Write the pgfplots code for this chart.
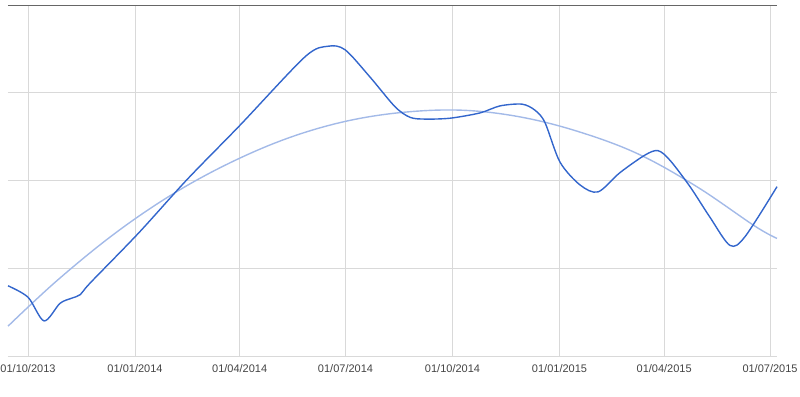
\documentclass[border=0pt]{standalone}
\usepackage{pgfplots}
\pgfplotsset{compat=1.18}
\usepackage{fontspec}
\setmainfont{Liberation Sans}
\definecolor{gblue}{HTML}{3366CC}
\definecolor{gridc}{HTML}{D9D9D9}
\definecolor{lab}{HTML}{444444}
\begin{document}
\begin{tikzpicture}
\begin{axis}[
  name=a,
  scale only axis,
  width=769pt, height=351pt,
  xmin=-17.2, xmax=644, ymin=0, ymax=4,
  axis line style={draw=none},
  tick style={draw=none},
  xtick={0,92,182,273,365,457,547,638},
  xticklabels={01/10/2013,01/01/2014,01/04/2014,01/07/2014,01/10/2014,01/01/2015,01/04/2015,01/07/2015},
  ytick={0,1,2,3},
  yticklabels={},
  extra y ticks={4},
  extra y tick labels={},
  extra y tick style={grid style={draw=black!60, line width=1pt}},
  grid=major,
  grid style={draw=gridc, line width=0.8pt},
  xticklabel style={font=\fontsize{11}{13}\selectfont, text=lab, yshift=-5pt},
  clip=false,
]
\addplot[gblue!45, line width=1.4pt, smooth, tension=0.6] coordinates {
(-17.2,0.34) (25,0.86) (75,1.40) (125,1.85) (175,2.21) (225,2.49) (275,2.68) (325,2.78) (375,2.80) (425,2.72) (475,2.55) (525,2.30) (575,1.93) (625,1.48) (644,1.34)
};
\addplot[gblue, line width=1.4pt, smooth, tension=0.5] coordinates {
(-17.2,0.80) (0,0.67) (13.8,0.40) (27.5,0.60) (37.8,0.66) (45,0.70) (53.3,0.83) (95,1.40) (136.7,2.01) (182.3,2.63) (238.2,3.41) (258,3.53) (272.6,3.49) (294,3.18) (315.6,2.84) (328.5,2.72) (341.4,2.70) (362.9,2.71) (388.6,2.77) (405.8,2.85) (424.8,2.87) (436,2.80) (444.5,2.66) (457.4,2.21) (474.6,1.95) (490.1,1.87) (509,2.09) (530.5,2.29) (541.7,2.34) (552,2.23) (569.2,1.93) (586.4,1.58) (603.6,1.26) (616.5,1.36) (644,1.93)
};
\end{axis}
\pgfresetboundingbox
\path (a.south west) +(-8pt,-40pt) (a.north east) +(23pt,5pt);
\end{tikzpicture}
\end{document}
